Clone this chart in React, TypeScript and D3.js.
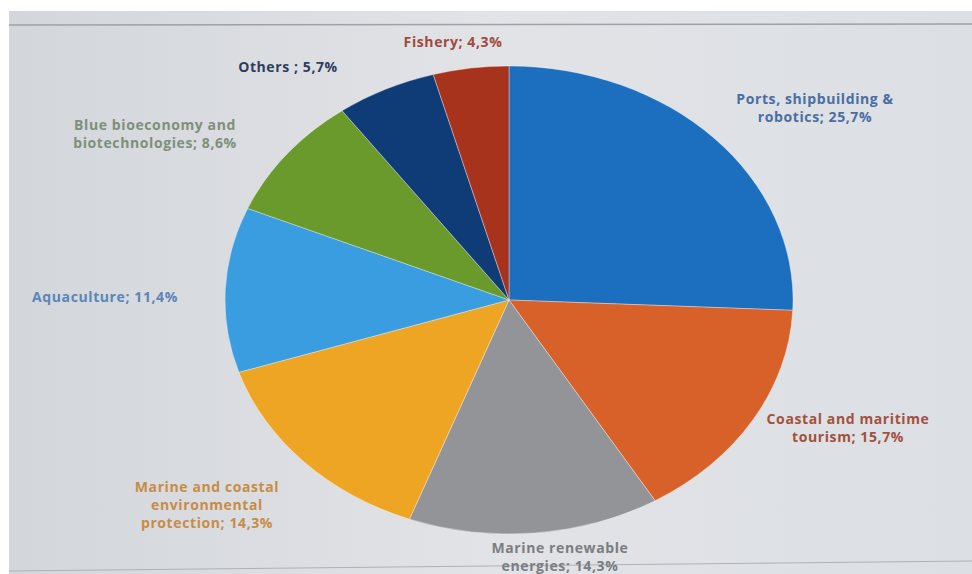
import * as d3 from 'd3';
import React, { useRef, useEffect } from 'react';

const categories = [
    'Ports, shipbuilding & robotics',
    'Coastal and maritime tourism',
    'Marine renewable energies',
    'Marine and coastal environmental protection',
    'Aquaculture',
    'Blue bioeconomy and biotechnologies',
    'Others ',
    'Fishery',
];
const shares = [25.7, 15.7, 14.3, 14.3, 11.4, 8.6, 5.7, 4.3];
const sliceColors = ['#1c6fbe', '#d8612a', '#929497', '#eea524', '#3a9de0', '#6a9a2b', '#0f3b76', '#a8331d'];
const labelColors = ['#4a6ea2', '#a2513f', '#7b7d81', '#c88c46', '#5b86b6', '#7e9079', '#2f3d5d', '#a14a3e'];
// how each label breaks into lines
const labelLines = [
    ['Ports, shipbuilding &', 'robotics; 25,7%'],
    ['Coastal and maritime', 'tourism; 15,7%'],
    ['Marine renewable', 'energies; 14,3%'],
    ['Marine and coastal', 'environmental', 'protection; 14,3%'],
    ['Aquaculture; 11,4%'],
    ['Blue bioeconomy and', 'biotechnologies; 8,6%'],
    ['Others ; 5,7%'],
    ['Fishery; 4,3%'],
];

// label layout (centre of first line)
const labelPos: [number, number][] = [
    [815, 104], [848, 424], [560, 553], [207, 492],
    [105, 302], [155, 130], [288, 72], [453, 47],
];

const W = 972;
const H = 574;

export default function App() {
    const ref = useRef<SVGSVGElement | null>(null);

    useEffect(() => {
        const svg = d3.select(ref.current);
        svg.selectAll('*').remove();

        // photo of a screen: white margin + grey panel
        svg.append('rect').attr('width', W).attr('height', H).attr('fill', '#ffffff');
        const grad = svg.append('defs').append('linearGradient')
            .attr('id', 'bg').attr('x1', 0).attr('x2', 1).attr('y1', 0).attr('y2', 0);
        grad.append('stop').attr('offset', 0).attr('stop-color', '#d3d6da');
        grad.append('stop').attr('offset', 0.5).attr('stop-color', '#e1e3e7');
        grad.append('stop').attr('offset', 1).attr('stop-color', '#dcdfe3');
        svg.append('rect').attr('x', 9).attr('y', 11).attr('width', W - 9).attr('height', H - 11)
            .attr('fill', 'url(#bg)');
        svg.append('line').attr('x1', 9).attr('x2', W).attr('y1', 25).attr('y2', 24)
            .attr('stroke', '#9ea2a7').attr('stroke-width', 1.5);
        svg.append('line').attr('x1', 9).attr('x2', W).attr('y1', 571).attr('y2', 561)
            .attr('stroke', '#aeb1b5').attr('stroke-width', 1);

        const cx = 509;
        const cy = 300;
        const rx = 284;
        const ry = 234;
        const r = 200;

        const pie = d3.pie<number>().sort(null).value((d) => d);
        const arcs = pie(shares);
        const arc = d3.arc<d3.PieArcDatum<number>>().innerRadius(0).outerRadius(r);

        const g = svg.append('g')
            .attr('transform', `translate(${cx},${cy}) scale(${rx / r},${ry / r})`);
        g.selectAll('path')
            .data(arcs)
            .join('path')
            .attr('d', arc as any)
            .attr('fill', (_d, i) => sliceColors[i])
            .attr('stroke', 'rgba(255,255,255,0.35)')
            .attr('stroke-width', 1)
            .attr('vector-effect', 'non-scaling-stroke');

        const labels = svg.append('g')
            .style('font-family', '"Open Sans", Lato, sans-serif')
            .style('font-weight', 700)
            .style('font-size', '14px')
            .style('letter-spacing', '0.6px');
        categories.forEach((_c, i) => {
            const t = labels.append('text')
                .attr('x', labelPos[i][0])
                .attr('y', labelPos[i][1])
                .attr('text-anchor', 'middle')
                .attr('fill', labelColors[i]);
            labelLines[i].forEach((line, j) => {
                t.append('tspan')
                    .attr('x', labelPos[i][0])
                    .attr('dy', j === 0 ? 0 : 18)
                    .text(line);
            });
        });
    }, []);

    return (
        <svg
            ref={ref}
            width={W}
            height={H}
            style={{ position: 'fixed', left: 0, top: 0, display: 'block' }}
        />
    );
}
